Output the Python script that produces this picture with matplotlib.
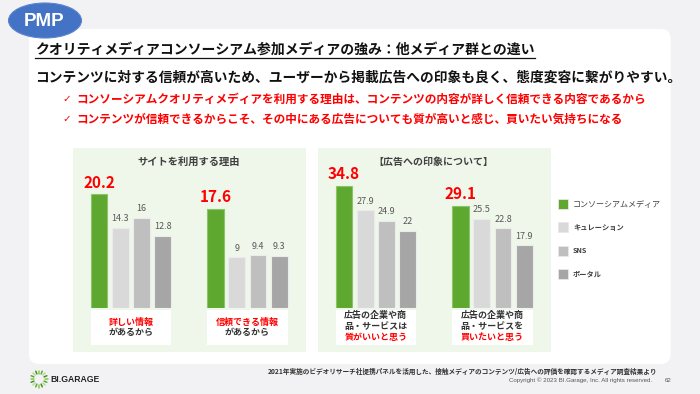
import matplotlib
matplotlib.use('Agg')
import matplotlib.pyplot as plt
from matplotlib.patches import FancyBboxPatch, Ellipse, Rectangle
import numpy as np

plt.rcParams['font.family'] = ['Noto Sans CJK JP', 'DejaVu Sans']

# ---------------- data ----------------
series_names = ['コンソーシアムメディア', 'キュレーション', 'SNS', 'ポータル']
series_colors = ['#5fa830', '#d9d9d9', '#bfbfbf', '#a6a6a6']

consortium_reason = [20.2, 17.6]
curation_reason = [14.3, 9.0]
sns_reason = [16.0, 9.4]
portal_reason = [12.8, 9.3]

consortium_ad = [34.8, 29.1]
curation_ad = [27.9, 25.5]
sns_ad = [24.9, 22.8]
portal_ad = [22.0, 17.9]

reason_labels = [['詳しい情報', 'があるから'], ['信頼できる情報', 'があるから']]
ad_labels = [['広告の企業や商', '品・サービスは', '質がいいと思う'],
             ['広告の企業や商', '品・サービスを', '買いたいと思う']]

panel_titles = ['サイトを利用する理由', '【広告への印象について】']
title = 'クオリティメディアコンソーシアム参加メディアの強み：他メディア群との違い'
subtitle = 'コンテンツに対する信頼が高いため、ユーザーから掲載広告への印象も良く、態度変容に繋がりやすい。'
bullets = ['コンソーシアムクオリティメディアを利用する理由は、コンテンツの内容が詳しく信頼できる内容であるから',
           'コンテンツが信頼できるからこそ、その中にある広告についても質が高いと感じ、買いたい気持ちになる']
footnote = '2021年実施のビデオリサーチ社提携パネルを活用した、接触メディアのコンテンツ/広告への評価を確認するメディア調査結果より'
copyright_text = 'Copyright © 2023 BI.Garage, Inc. All rights reserved.'
page_no = '62'

# ---------------- figure ----------------
W, H = 700, 394
fig = plt.figure(figsize=(W / 100, H / 100), dpi=100)
fig.patch.set_facecolor('#f2f2f4')

bg = fig.add_axes([0, 0, 1, 1], zorder=0)
bg.set_xlim(0, W)
bg.set_ylim(H, 0)
bg.axis('off')

# white slide panel
bg.add_patch(FancyBboxPatch((39, 39), 621.7, 315, boxstyle='round,pad=10',
                            fc='white', ec='none'))
# PMP badge
bg.add_patch(Ellipse((45, 20.5), 73, 35, fc='#4472c4', ec='#5b84cf', lw=0.8))
bg.text(44.5, 21.5, 'PMP', color='white', fontsize=13.5, fontweight='bold',
        family=['Liberation Sans', 'DejaVu Sans'], ha='center', va='center')

# title + underline
t = bg.text(35, 50, title, fontsize=10, fontweight='bold', color='#111111',
            ha='left', va='center')
bg.text(35, 77, subtitle, fontsize=9.9, fontweight='bold', color='#111111',
        ha='left', va='center')
for i, b in enumerate(bullets):
    y = 99 + 20 * i
    bg.text(62, y, '✓', fontsize=7.5, color='#ff0000', ha='left', va='center',
            family=['DejaVu Sans'])
    bg.text(76, y, b, fontsize=8.4, fontweight='bold', color='#ff0000',
            ha='left', va='center')

# green panels
bg.add_patch(Rectangle((72.7, 148.3), 233, 204, fc='#eff6ea', ec='none'))
bg.add_patch(Rectangle((317.7, 148.3), 233, 204, fc='#eff6ea', ec='none'))
bg.text(189, 162, panel_titles[0], fontsize=7.4, fontweight='bold', color='#404040',
        ha='center', va='center')
bg.text(433.5, 161.5, panel_titles[1], fontsize=7.2, fontweight='bold', color='#404040',
        ha='center', va='center')

# legend
for i, (name, col) in enumerate(zip(series_names, series_colors)):
    yc = 204 + 23.3 * i
    bg.add_patch(Rectangle((558, yc - 5), 10, 10, fc=col, ec='#e8e8e8', lw=0.6))
    bg.text(573, yc, name, fontsize=5.8 if i == 0 else 5.2, color='#404040',
            fontweight='normal' if i == 0 else 'bold', ha='left', va='center')

# footer
for k in range(16):
    a = 2 * np.pi * k / 16
    r0, r1 = 5.5, 8.5
    shade = ['#8dc63f', '#5aa832', '#b5d98a', '#3c8d2a'][k % 4]
    bg.plot([39 + r0 * np.cos(a), 39 + r1 * np.cos(a)],
            [379 + r0 * np.sin(a), 379 + r1 * np.sin(a)], color=shade, lw=1.1,
            solid_capstyle='round')
bg.text(50, 379.5, 'BI.GARAGE', fontsize=6.2, fontweight='bold', color='#222222',
        family=['Liberation Sans', 'DejaVu Sans'], ha='left', va='center')
bg.text(657, 371, footnote, fontsize=4.8, fontweight='bold', color='#333333',
        ha='right', va='center')
bg.text(652, 380.5, copyright_text, fontsize=4.4, color='#555555',
        family=['Liberation Sans', 'DejaVu Sans'], ha='right', va='center')
bg.text(668, 380.5, page_no, fontsize=4.4, color='#555555',
        family=['Liberation Sans', 'DejaVu Sans'], ha='center', va='center')

# ---------------- bar panels ----------------
PITCH = 21.2        # px per x unit
BASE = 308.3        # baseline pixel row
TOP = 150.0
group_offsets = [0.0, 5.5]
bar_w = 0.79


def bar_panel(center0_px, px_per_unit, series, labels, red_lines):
    left_px = center0_px - 0.896 * PITCH
    right_px = center0_px + 9.481 * PITCH
    ax = fig.add_axes([left_px / W, 1 - BASE / H, (right_px - left_px) / W,
                       (BASE - TOP) / H], zorder=2)
    ax.set_xlim(-0.896, 9.481)
    ax.set_ylim(0, (BASE - TOP) / px_per_unit)
    ax.axis('off')
    ax.patch.set_alpha(0)
    for si, (vals, col) in enumerate(zip(series, series_colors)):
        xs = [g + si for g in group_offsets]
        edge = '#8cc46a' if si == 0 else '#ececec'
        ax.bar(xs, vals, width=bar_w, color=col, edgecolor=edge, linewidth=0.8)
        for x, v in zip(xs, vals):
            if si == 0:
                ax.annotate(f'{v:g}', (x, v), xytext=(0, 8.4), textcoords='offset points',
                            ha='center', va='center', fontsize=11, fontweight='bold',
                            color='#ff0000')
            else:
                ax.annotate(f'{v:g}', (x, v), xytext=(0, 6.5), textcoords='offset points',
                            ha='center', va='center', fontsize=6.5, color='#595959')
    # category label boxes
    for g, lines in zip(group_offsets, labels):
        y0 = -(310 - BASE) / px_per_unit
        y1 = -(345 - BASE) / px_per_unit
        ax.add_patch(Rectangle((g - bar_w / 2, y1), 3 + bar_w, y0 - y1, fc='white',
                               ec='none', clip_on=False))
        if len(lines) == 2:
            ys = [322.7, 332.9]
        else:
            ys = [315.7, 326.7, 337.7]
        for j, (line, yp) in enumerate(zip(lines, ys)):
            red = j in red_lines
            ax.text(g + 1.5, -(yp - BASE) / px_per_unit, line, fontsize=6.5,
                    fontweight='bold', color='#ff0000' if red else '#333333',
                    ha='center', va='center', clip_on=False)
    return ax


bar_panel(99.0, 5.65, [consortium_reason, curation_reason, sns_reason, portal_reason],
          reason_labels, red_lines=[0])
bar_panel(344.0, 3.515, [consortium_ad, curation_ad, sns_ad, portal_ad],
          ad_labels, red_lines=[2])

# underline the title to its measured width
fig.canvas.draw()
bb = t.get_window_extent()
inv = bg.transData.inverted()
(x0, _), (x1, _) = inv.transform([[bb.x0, 0], [bb.x1, 0]])
bg.plot([x0, x1], [57.5, 57.5], color='#111111', lw=0.9)

fig.savefig('out.png', dpi=100, facecolor=fig.get_facecolor())
